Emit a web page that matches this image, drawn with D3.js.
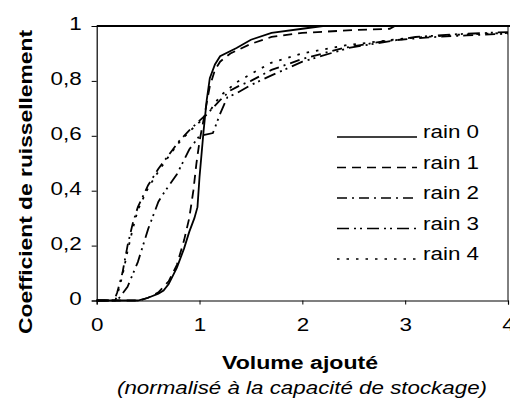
<!DOCTYPE html>
<html>
<head>
<meta charset="utf-8">
<script src="https://cdn.jsdelivr.net/npm/d3@7"></script>
<style>
body { margin: 0; background: #fff; }
text { font-family: "Liberation Sans", Arial, sans-serif; fill: #000; }
</style>
</head>
<body>
<div id="chart"></div>
<script>
// values
const seriesNames = ["rain 0", "rain 1", "rain 2", "rain 3", "rain 4"];
const rain0X = [0, 0.4, 0.5, 0.6, 0.65, 0.7, 0.78, 0.85, 0.9, 0.95, 0.98, 1.0, 1.04, 1.07, 1.1, 1.15, 1.2, 1.36, 1.5, 1.7, 2.0, 2.2, 4.0];
const rain0Y = [0, 0, 0.01, 0.025, 0.036, 0.06, 0.12, 0.19, 0.25, 0.3, 0.34, 0.45, 0.62, 0.73, 0.81, 0.86, 0.89, 0.92, 0.95, 0.975, 0.99, 1.0, 1.0];
const rain1X = [0, 0.42, 0.5, 0.6, 0.7, 0.78, 0.85, 0.9, 0.94, 0.97, 1.0, 1.05, 1.1, 1.15, 1.2, 1.3, 1.5, 1.7, 2.0, 2.5, 2.85, 2.9, 4.0];
const rain1Y = [0, 0, 0.01, 0.03, 0.07, 0.13, 0.22, 0.3, 0.4, 0.5, 0.58, 0.68, 0.78, 0.84, 0.87, 0.9, 0.935, 0.96, 0.975, 0.985, 0.99, 1.0, 1.0];
const rain2X = [0, 0.17, 0.2, 0.25, 0.3, 0.35, 0.4, 0.5, 0.6, 0.7, 0.8, 0.9, 1.0, 1.1, 1.2, 1.3, 1.4, 1.5, 1.7, 2.0, 2.4, 2.8, 3.2, 3.6, 4.0];
const rain2Y = [0, 0, 0.03, 0.1, 0.2, 0.28, 0.34, 0.42, 0.48, 0.53, 0.58, 0.62, 0.655, 0.69, 0.73, 0.765, 0.785, 0.8, 0.84, 0.88, 0.92, 0.945, 0.958, 0.966, 0.972];
const rain3X = [0, 0.2, 0.3, 0.4, 0.5, 0.6, 0.65, 0.78, 0.9, 1.0, 1.13, 1.2, 1.27, 1.36, 1.5, 1.7, 2.0, 2.45, 3.1, 3.5, 4.0];
const rain3Y = [0, 0, 0.05, 0.14, 0.26, 0.36, 0.39, 0.46, 0.55, 0.6, 0.61, 0.68, 0.74, 0.755, 0.785, 0.82, 0.87, 0.92, 0.96, 0.97, 0.978];
const rain4X = [0, 0.18, 0.2, 0.25, 0.3, 0.35, 0.4, 0.5, 0.6, 0.7, 0.8, 0.9, 1.0, 1.1, 1.2, 1.36, 1.5, 1.69, 2.0, 2.43, 3.0, 3.5, 4.0];
const rain4Y = [0, 0, 0.02, 0.09, 0.18, 0.26, 0.33, 0.41, 0.47, 0.525, 0.575, 0.615, 0.65, 0.69, 0.745, 0.795, 0.825, 0.865, 0.9, 0.93, 0.955, 0.968, 0.975];
const xTicks = [0, 1, 2, 3, 4];
const yTicks = [0, 0.2, 0.4, 0.6, 0.8, 1];

const allX = [rain0X, rain1X, rain2X, rain3X, rain4X];
const allY = [rain0Y, rain1Y, rain2Y, rain3Y, rain4Y];
const dashes = [null, "9,6", "10,5,2,5", "12,5,2,4,2,5", "2.5,7"];

const W = 510, H = 412;
const svg = d3.select("#chart").append("svg")
    .attr("width", W)
    .attr("height", H);

var x = d3.scaleLinear().domain([0, 4]).range([96.7, 508]);
var y = d3.scaleLinear().domain([0, 1]).range([300.5, 26]);

// frame (top and right)
svg.append("line")
    .attr("x1", x(0)).attr("x2", 510)
    .attr("y1", y(1)).attr("y2", y(1))
    .attr("stroke", "#000").attr("stroke-width", 2);
svg.append("line")
    .attr("x1", x(4)).attr("x2", x(4))
    .attr("y1", y(1)).attr("y2", y(0))
    .attr("stroke", "#000").attr("stroke-width", 1);

var fmt = function (d) {
    if (d === 0 || d === 1) return String(d);
    return d3.format(".1f")(d).replace(".", ",");
};

var gx = svg.append("g")
    .attr("transform", "translate(0," + y(0) + ")")
    .call(d3.axisBottom(x).tickValues(xTicks).tickSize(4).tickPadding(14).tickFormat(d3.format("d")));
var gy = svg.append("g")
    .attr("transform", "translate(" + x(0) + ",0)")
    .call(d3.axisLeft(y).tickValues(yTicks).tickSize(5).tickPadding(10).tickFormat(fmt));
[gx, gy].forEach(function (g) {
    g.select(".domain").attr("stroke", "#000").attr("stroke-width", 1.2);
    g.selectAll(".tick line").attr("stroke", "#000");
    g.selectAll(".tick text")
        .attr("class", "stretch")
        .style("font-family", "'Liberation Sans', Arial, sans-serif")
        .style("font-size", "17.5px");
});
gy.selectAll(".tick text").attr("dy", "0.2em");

// curves
var line = d3.line()
    .x(function (d) { return x(d[0]); })
    .y(function (d) { return y(d[1]); });

for (var i = 0; i < seriesNames.length; i++) {
    var pts = allX[i].map(function (v, j) { return [v, allY[i][j]]; });
    svg.append("path")
        .datum(pts)
        .attr("d", line)
        .attr("fill", "none")
        .attr("stroke", "#000")
        .attr("stroke-width", 1.8)
        .attr("stroke-dasharray", dashes[i]);
}

// legend
var legend = svg.append("g");
for (var i = 0; i < seriesNames.length; i++) {
    var ly = 137 + i * 30.5;
    legend.append("line")
        .attr("x1", 337).attr("x2", 417)
        .attr("y1", ly).attr("y2", ly)
        .attr("stroke", "#000")
        .attr("stroke-width", 1.6)
        .attr("stroke-dasharray", dashes[i]);
    legend.append("text")
        .attr("class", "stretch")
        .attr("x", 423)
        .attr("y", ly + 1)
        .style("font-size", "17.5px")
        .text(seriesNames[i]);
}

// axis titles
svg.append("text")
    .attr("transform", "translate(32,182) rotate(-90)")
    .attr("text-anchor", "middle")
    .attr("textLength", 304)
    .attr("lengthAdjust", "spacingAndGlyphs")
    .style("font-size", "19px")
    .style("font-weight", "bold")
    .text("Coefficient de ruissellement");

svg.append("text")
    .attr("x", 300)
    .attr("y", 369)
    .attr("text-anchor", "middle")
    .attr("textLength", 156)
    .attr("lengthAdjust", "spacingAndGlyphs")
    .style("font-size", "18px")
    .style("font-weight", "bold")
    .text("Volume ajouté");

svg.append("text")
    .attr("x", 302)
    .attr("y", 394)
    .attr("text-anchor", "middle")
    .attr("textLength", 370)
    .attr("lengthAdjust", "spacingAndGlyphs")
    .style("font-size", "17.5px")
    .style("font-style", "italic")
    .text("(normalisé à la capacité de stockage)");

// the scan is wider than tall, so stretch the small labels sideways
svg.selectAll("text.stretch").each(function () {
    var w = this.getComputedTextLength();
    d3.select(this)
        .attr("textLength", w * 1.28)
        .attr("lengthAdjust", "spacingAndGlyphs");
});
</script>
</body>
</html>
